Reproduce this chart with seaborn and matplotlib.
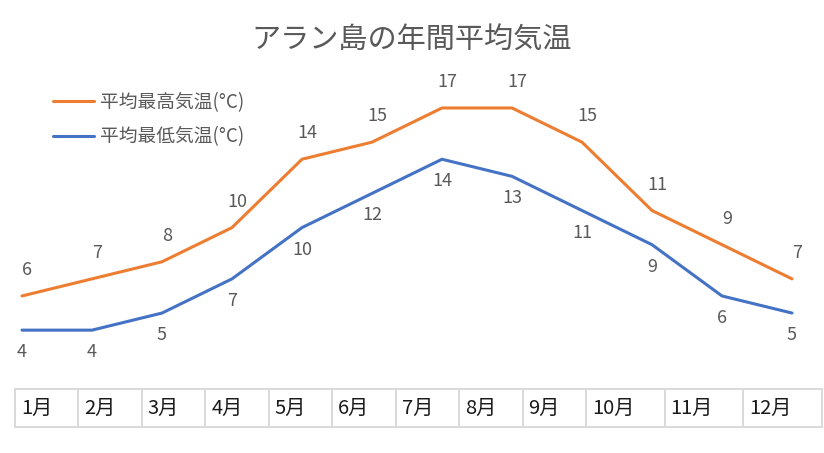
import numpy as np
import pandas as pd
import matplotlib
matplotlib.use("Agg")
import matplotlib.pyplot as plt
from matplotlib.patches import Rectangle
import seaborn as sns

# data
months = ["1月", "2月", "3月", "4月", "5月", "6月", "7月", "8月", "9月", "10月", "11月", "12月"]
high_temp = [6, 7, 8, 10, 14, 15, 17, 17, 15, 11, 9, 7]
low_temp = [4, 4, 5, 7, 10, 12, 14, 13, 11, 9, 6, 5]
title = "アラン島の年間平均気温"
high_label = "平均最高気温(°C)"
low_label = "平均最低気温(°C)"

# style
sns.set_theme(style="white")
plt.rcParams["font.family"] = ["Noto Sans CJK JP", "DejaVu Sans"]
text_color = "#595959"
orange = "#ED7D31"
blue = "#4472C4"
grid_gray = "#D9D9D9"

W, H = 824, 453
fig = plt.figure(figsize=(W / 100, H / 100), dpi=100)

# main axes: category step = 70px, first point at x=22px, y=0 at 398.5px, 17.09px per degree
x_lo, x_hi = -0.25, 11.25
y_lo, y_hi = 0, 20
left_px = 22 - 0.25 * 70
width_px = (x_hi - x_lo) * 70
bottom_px = 398.5
height_px = (y_hi - y_lo) * 17.09
ax = fig.add_axes([left_px / W, 1 - bottom_px / H, width_px / W, height_px / H])

sns.lineplot(x=months, y=high_temp, ax=ax, color=orange, linewidth=2.2,
             sort=False, label=high_label)
sns.lineplot(x=months, y=low_temp, ax=ax, color=blue, linewidth=2.2,
             sort=False, label=low_label)
ax.set_xlim(x_lo, x_hi)
ax.set_ylim(y_lo, y_hi)
ax.set_xticks([])
ax.set_yticks([])
ax.set_xlabel("")
ax.set_ylabel("")
for s in ax.spines.values():
    s.set_visible(False)
ax.patch.set_alpha(0)

# data labels (high above, low below)
for i, v in enumerate(high_temp):
    ax.annotate(str(v), (i, v), xytext=(5, 26), textcoords="offset pixels",
                ha="center", va="center", fontsize=13, color=text_color)
for i, v in enumerate(low_temp):
    ax.annotate(str(v), (i, v), xytext=(0, -22), textcoords="offset pixels",
                ha="center", va="center", fontsize=13, color=text_color)

# legend
leg = ax.legend(loc="center left", bbox_to_anchor=(53 / W, 1 - 119.5 / H),
                bbox_transform=fig.transFigure, frameon=False, fontsize=13.5,
                handlelength=2.2, handletextpad=0.3, labelspacing=0.7,
                borderpad=0, borderaxespad=0)
for t in leg.get_texts():
    t.set_color(text_color)

# title
fig.text(0.5, 1 - 40 / H, title, ha="center", va="center", fontsize=21, color=text_color)

# month table below the chart
col_widths = [1.0] * 9 + [1.24] * 3
edges = np.concatenate([[0], np.cumsum(col_widths)])
tab = fig.add_axes([15 / W, 1 - 427 / H, (822 - 15) / W, (427 - 389) / H])
tab.set_xlim(0, edges[-1])
tab.set_ylim(0, 1)
tab.axis("off")
tab.add_patch(Rectangle((0, 0), edges[-1], 1, fill=False, edgecolor=grid_gray,
                        linewidth=1.4, clip_on=False))
for e in edges[1:-1]:
    tab.plot([e, e], [0, 1], color=grid_gray, linewidth=1.4, clip_on=False)
pad = 6 / 64
for m, e in zip(months, edges[:-1]):
    tab.text(e + pad, 0.5, m, ha="left", va="center", fontsize=14.5, color="#1a1a1a")

fig.savefig("out.png", dpi=100)
